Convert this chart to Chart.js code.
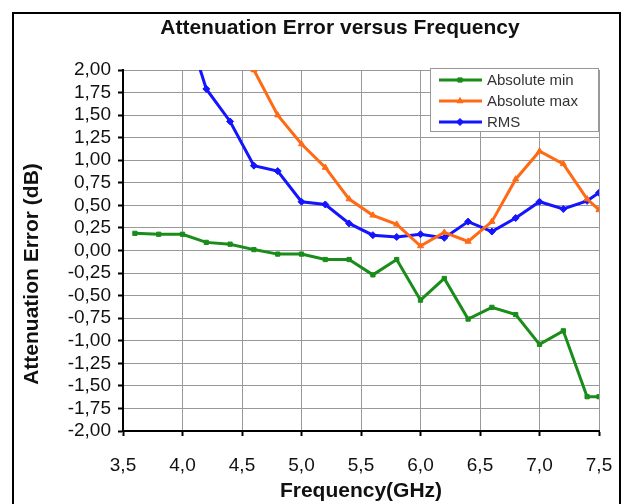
<!DOCTYPE html>
<html>
<head>
<meta charset="utf-8">
<script src="https://cdn.jsdelivr.net/npm/chart.js@4"></script>
<style>
  body { margin: 0; background: #fff; }
  #wrap { position: relative; width: 622px; height: 504px; }
</style>
</head>
<body>
<div id="wrap"><canvas id="attChart" width="622" height="504"></canvas></div>
<script>
const freqs = [3.6, 3.8, 4.0, 4.2, 4.4, 4.6, 4.8, 5.0, 5.2, 5.4, 5.6, 5.8, 6.0, 6.2, 6.4, 6.6, 6.8, 7.0, 7.2, 7.4, 7.5];
const absMin = [0.19, 0.18, 0.18, 0.09, 0.07, 0.01, -0.04, -0.04, -0.10, -0.10, -0.27, -0.10, -0.55, -0.31, -0.76, -0.63, -0.71, -1.04, -0.89, -1.62, -1.62];
const absMax = [null, null, null, null, null, 2.00, 1.50, 1.18, 0.92, 0.57, 0.39, 0.29, 0.05, 0.20, 0.10, 0.32, 0.79, 1.10, 0.96, 0.57, 0.45];
const rms = [null, null, 2.62, 1.79, 1.43, 0.94, 0.88, 0.54, 0.51, 0.30, 0.17, 0.15, 0.18, 0.14, 0.32, 0.21, 0.36, 0.54, 0.46, 0.55, 0.64];
const seriesNames = ['Absolute min', 'Absolute max', 'RMS'];
const chartTitle = 'Attenuation Error versus Frequency';
const xTitle = 'Frequency(GHz)';
const yTitle = 'Attenuation Error (dB)';

const FONT = '"Liberation Sans", Arial, sans-serif';

function toPoints(vals) {
    return freqs.map((f, i) => ({x: f, y: vals[i]}));
}

// frame, title, y title and the legend box inside the plot
const decor = {
    id: 'decor',
    beforeDraw(chart) {
        const ctx = chart.ctx;
        ctx.save();
        ctx.strokeStyle = '#000';
        ctx.lineWidth = 2;
        ctx.strokeRect(13, 13, 607, 600);
        ctx.restore();
    },
    afterDraw(chart) {
        const ctx = chart.ctx;
        ctx.save();
        ctx.fillStyle = '#111';
        ctx.font = 'bold 21px ' + FONT;
        ctx.textAlign = 'center';
        ctx.textBaseline = 'middle';
        ctx.fillText(chartTitle, 340, 28);

        ctx.translate(32, 274);
        ctx.rotate(-Math.PI / 2);
        ctx.font = 'bold 21px ' + FONT;
        ctx.fillText(yTitle, 0, 0);
        ctx.restore();

        // legend
        ctx.save();
        const bx = 430, by = 68, bw = 168, bh = 63;
        ctx.fillStyle = '#fff';
        ctx.fillRect(bx, by, bw, bh);
        ctx.strokeStyle = '#999';
        ctx.lineWidth = 1;
        ctx.strokeRect(bx + 0.5, by + 0.5, bw, bh);
        ctx.font = '15px ' + FONT;
        ctx.textAlign = 'left';
        ctx.textBaseline = 'middle';
        chart.data.datasets.forEach((ds, i) => {
            const y = by + 12 + i * 21;
            ctx.strokeStyle = ds.borderColor;
            ctx.fillStyle = ds.borderColor;
            ctx.lineWidth = 3;
            ctx.beginPath();
            ctx.moveTo(bx + 9, y);
            ctx.lineTo(bx + 52, y);
            ctx.stroke();
            ctx.lineWidth = 1;
            Chart.helpers.drawPoint(ctx, {
                pointStyle: ds.pointStyle,
                radius: ds.pointRadius,
                borderWidth: 1
            }, bx + 30, y);
            ctx.fillStyle = '#333';
            ctx.fillText(ds.label, bx + 57, y + 1);
        });
        ctx.restore();
    }
};

function makeSet(label, vals, color, style, r) {
    return {
        label: label,
        data: toPoints(vals),
        borderColor: color,
        backgroundColor: color,
        borderWidth: 3,
        pointStyle: style,
        pointRadius: r,
        pointBorderWidth: 1,
        pointBorderColor: color,
        pointBackgroundColor: color,
        tension: 0,
        spanGaps: false
    };
}

new Chart(document.getElementById('attChart'), {
    type: 'line',
    data: {
        datasets: [
            makeSet(seriesNames[0], absMin, '#1a8c1a', 'rect', 3),
            makeSet(seriesNames[1], absMax, '#ff6a14', 'triangle', 3.5),
            makeSet(seriesNames[2], rms, '#1414ff', 'rectRot', 3.5)
        ]
    },
    options: {
        responsive: false,
        animation: false,
        layout: {padding: {left: 0, right: 23, top: 70, bottom: 0}},
        plugins: {
            legend: {display: false},
            title: {display: false},
            tooltip: {enabled: false}
        },
        scales: {
            x: {
                type: 'linear',
                min: 3.5,
                max: 7.5,
                afterFit: s => {
                    s.height = 73;
                    s.paddingLeft = 0;
                    s.paddingRight = 0;
                },
                ticks: {
                    stepSize: 0.5,
                    padding: 18,
                    autoSkip: false,
                    color: '#111',
                    font: {family: FONT, size: 19},
                    callback: v => v.toFixed(1).replace('.', ',')
                },
                grid: {color: '#999', lineWidth: 1, tickLength: 5, tickColor: '#000', tickWidth: 2},
                border: {color: '#000', width: 2},
                title: {
                    display: true,
                    text: xTitle,
                    color: '#111',
                    padding: {top: 0, bottom: 0},
                    font: {family: FONT, size: 21, weight: 'bold'}
                }
            },
            y: {
                min: -2,
                max: 2,
                afterFit: s => {
                    s.width = 123;
                    s.paddingTop = 0;
                    s.paddingBottom = 0;
                },
                ticks: {
                    stepSize: 0.25,
                    padding: 7,
                    autoSkip: false,
                    color: '#111',
                    font: {family: FONT, size: 19},
                    callback: v => v.toFixed(2).replace('.', ',')
                },
                grid: {color: '#999', lineWidth: 1, tickLength: 5, tickColor: '#000', tickWidth: 2},
                border: {color: '#000', width: 2}
            }
        }
    },
    plugins: [decor]
});
</script>
</body>
</html>
